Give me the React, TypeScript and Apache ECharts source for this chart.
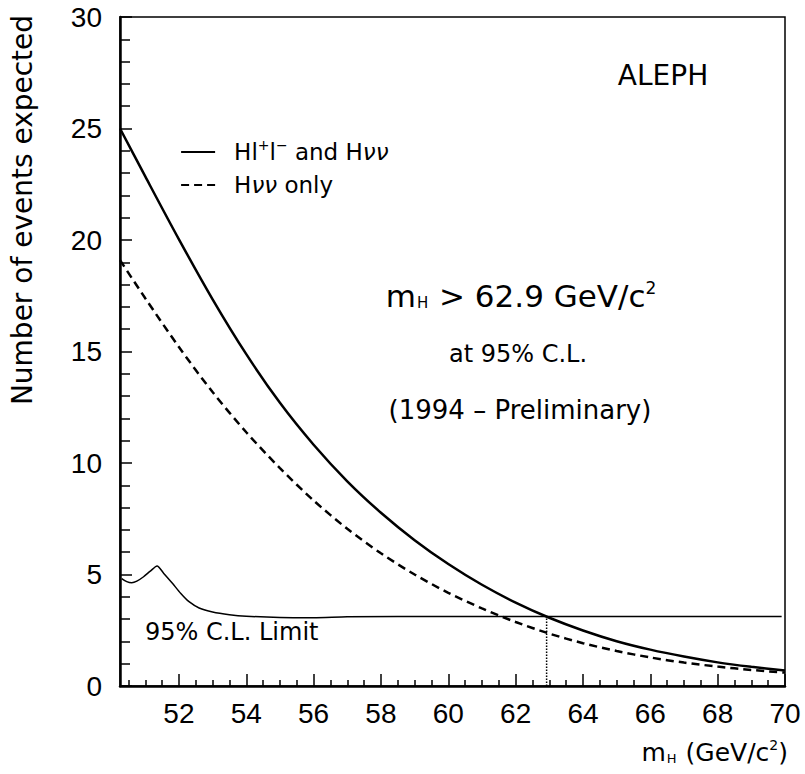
import React, { useEffect, useRef } from "react";
import * as echarts from "echarts";

// Higgs mass (GeV/c^2) sampling of the expected-event curves
const massGrid = [50.25, 51, 52, 53, 54, 55, 56, 57, 58, 59, 60, 61, 62, 63, 64, 65, 66, 67, 68, 69, 70];
// Hl+l- and Hνν (solid)
const combinedEvents = [25.0, 22.85, 20.03, 17.34, 14.88, 12.7, 10.82, 9.18, 7.77, 6.54, 5.47, 4.54, 3.74, 3.06, 2.49, 2.01, 1.63, 1.32, 1.06, 0.86, 0.69];
// Hνν only (dashed)
const nunuEvents = [19.1, 17.39, 15.2, 13.18, 11.38, 9.77, 8.32, 7.05, 5.95, 5.0, 4.18, 3.48, 2.87, 2.35, 1.92, 1.57, 1.28, 1.05, 0.87, 0.72, 0.6];
// 95% C.L. limit curve
const limitMass = [50.3, 50.45, 50.6, 50.75, 50.95, 51.15, 51.35, 51.55, 51.8, 52.05, 52.3, 52.6, 53.0, 53.5, 54, 55, 56, 57, 60, 64, 69.9];
const limitEvents = [4.82, 4.68, 4.63, 4.7, 4.9, 5.15, 5.38, 5.05, 4.62, 4.16, 3.78, 3.5, 3.32, 3.2, 3.13, 3.07, 3.06, 3.1, 3.12, 3.12, 3.12];
// Excluded mass and crossing value
const massLimit = 62.92;
const crossingEvents = 3.11;

const xMin = 50.25;
const xMax = 70;
const xMajorTicks = [52, 54, 56, 58, 60, 62, 64, 66, 68, 70];
const xMinorTicks = [50.5, 51, 51.5, 52.5, 53, 53.5, 54.5, 55, 55.5, 56.5, 57, 57.5, 58.5, 59, 59.5, 60.5, 61, 61.5, 62.5, 63, 63.5, 64.5, 65, 65.5, 66.5, 67, 67.5, 68.5, 69, 69.5];
const yTicks = [0, 5, 10, 15, 20, 25, 30];

const combinedName = "Hl+l- and Hνν";
const nunuName = "Hνν only";

const TXT = "'DejaVu Sans', 'Liberation Sans', sans-serif";
const NUM = "'Liberation Sans', 'DejaVu Sans', sans-serif";

export default function App() {
  const ref = useRef<HTMLDivElement>(null);
  useEffect(() => {
    if (!ref.current) return;
    const chart = echarts.init(ref.current, undefined, { renderer: "svg" });
    const pair = (xs: number[], ys: number[]) => xs.map((x, i) => [x, ys[i]]);
    const black = "#000";
    const baseX = {
      type: "value",
      min: xMin,
      max: xMax,
      position: "bottom",
      splitLine: { show: false },
    };
    chart.setOption({
      animation: false,
      backgroundColor: "#fff",
      grid: {
        left: 120,
        right: 20,
        top: 17,
        bottom: 88,
        show: true,
        borderColor: black,
        borderWidth: 1.5,
      },
      xAxis: [
        {
          ...baseX,
          axisLine: { show: true, lineStyle: { color: black, width: 2.5 } },
          axisTick: { show: true, inside: true, length: 12, customValues: xMajorTicks, lineStyle: { color: black, width: 1.5 } },
          axisLabel: { show: true, customValues: xMajorTicks, color: black, fontSize: 28, fontFamily: NUM, margin: 13 },
        },
        {
          ...baseX,
          axisLine: { show: false },
          axisTick: { show: true, inside: true, length: 6, customValues: xMinorTicks, lineStyle: { color: black, width: 1.5 } },
          axisLabel: { show: false },
        },
      ],
      yAxis: {
        type: "value",
        min: yTicks[0],
        max: yTicks[yTicks.length - 1],
        interval: 5,
        splitLine: { show: false },
        axisLine: { show: true, lineStyle: { color: black, width: 2.5 } },
        axisTick: { show: true, inside: true, length: 12, lineStyle: { color: black, width: 1.5 } },
        minorTick: { show: true, splitNumber: 5, length: 10, lineStyle: { color: black, width: 1.5 } },
        axisLabel: { color: black, fontSize: 28, fontFamily: NUM, margin: 18 },
      },
      legend: {
        data: [combinedName, nunuName],
        orient: "vertical",
        left: 175,
        top: 133,
        itemWidth: 34,
        itemHeight: 14,
        itemGap: 10,
        selectedMode: false,
        itemStyle: { opacity: 0 },
        lineStyle: { width: 2.2 },
        formatter: (name: string) =>
          name === combinedName ? "{t|Hl}{sup|+}{t|l}{sup|−}{t| and H}{gr|νν}" : "{t|H}{gr|νν}{t| only}",
        textStyle: {
          color: black,
          padding: [0, 0, 0, 14],
          rich: {
            t: { fontSize: 23, fontFamily: TXT, color: black },
            gr: { fontSize: 23, fontFamily: TXT, color: black, fontStyle: "italic" },
            sup: { fontSize: 14, fontFamily: TXT, color: black, padding: [0, 0, 14, 0] },
          },
        },
      },
      series: [
        {
          name: combinedName,
          type: "line",
          data: pair(massGrid, combinedEvents),
          smooth: 0.3,
          symbol: "none",
          lineStyle: { color: black, width: 2.5 },
          itemStyle: { color: black },
          z: 3,
        },
        {
          name: nunuName,
          type: "line",
          data: pair(massGrid, nunuEvents),
          smooth: 0.3,
          symbol: "none",
          lineStyle: { color: black, width: 2.5, type: [8, 5] },
          itemStyle: { color: black },
          z: 3,
        },
        {
          name: "95% C.L. Limit",
          type: "line",
          data: pair(limitMass, limitEvents),
          smooth: 0.25,
          symbol: "none",
          lineStyle: { color: black, width: 1.5 },
          itemStyle: { color: black },
          z: 2,
        },
        {
          name: "limit marker",
          type: "line",
          data: [
            [massLimit, 0],
            [massLimit, crossingEvents],
          ],
          symbol: "none",
          lineStyle: { color: black, width: 1.5, type: "dotted" },
          z: 2,
        },
      ],
      graphic: [
        {
          type: "text",
          x: 22,
          y: 210,
          rotation: Math.PI / 2,
          style: {
            text: "Number of events expected",
            font: `28px ${TXT}`,
            fill: black,
            align: "center",
            verticalAlign: "middle",
          },
        },
        {
          type: "text",
          x: 663,
          y: 75,
          style: { text: "ALEPH", font: `28px ${TXT}`, fill: black, align: "center", verticalAlign: "middle" },
        },
        {
          type: "text",
          x: 521,
          y: 296,
          style: {
            text: "{t|m}{sub|H}{t| > 62.9 GeV/c}{sup|2}",
            align: "center",
            verticalAlign: "middle",
            rich: {
              t: { fontSize: 31, fontFamily: TXT, fill: black },
              sub: { fontSize: 15, fontFamily: TXT, fill: black, padding: [14, 1, 0, 1] },
              sup: { fontSize: 17, fontFamily: TXT, fill: black, padding: [0, 0, 16, 0] },
            },
          },
        },
        {
          type: "text",
          x: 518,
          y: 354,
          style: { text: "at 95% C.L.", font: `24px ${TXT}`, fill: black, align: "center", verticalAlign: "middle" },
        },
        {
          type: "text",
          x: 520,
          y: 410,
          style: { text: "(1994 – Preliminary)", font: `26px ${TXT}`, fill: black, align: "center", verticalAlign: "middle" },
        },
        {
          type: "text",
          x: 145,
          y: 632,
          style: { text: "95% C.L. Limit", font: `24px ${TXT}`, fill: black, align: "left", verticalAlign: "middle" },
        },
        {
          type: "text",
          x: 788,
          y: 752,
          style: {
            text: "{t|m}{sub|H}{t| (GeV/c}{sup|2}{t|)}",
            align: "right",
            verticalAlign: "middle",
            rich: {
              t: { fontSize: 25, fontFamily: TXT, fill: black },
              sub: { fontSize: 13, fontFamily: TXT, fill: black, padding: [12, 1, 0, 1] },
              sup: { fontSize: 14, fontFamily: TXT, fill: black, padding: [0, 0, 14, 0] },
            },
          },
        },
      ],
    });
    return () => chart.dispose();
  }, []);
  return <div ref={ref} style={{ position: "fixed", left: 0, top: 0, width: 805, height: 774 }} />;
}
